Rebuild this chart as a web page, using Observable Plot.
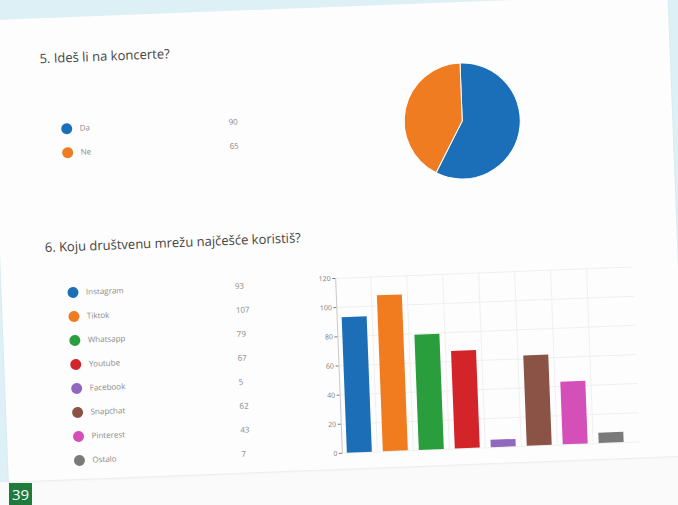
<!DOCTYPE html>
<html><head><meta charset="utf-8">
<script src="https://cdn.jsdelivr.net/npm/d3@7"></script>
<script src="https://cdn.jsdelivr.net/npm/@observablehq/plot@0.6"></script>
<style>
html,body{margin:0;padding:0;}
body{width:678px;height:505px;overflow:hidden;position:relative;background:#ddf0f5;font-family:"Open Sans",sans-serif;}
#under1{position:absolute;left:9px;top:440px;right:0;bottom:0;background:#fafafa;}
#under2{position:absolute;left:0;top:482px;width:12px;bottom:0;background:#fafafa;}
#page{position:absolute;left:-9px;top:20px;width:677px;height:462px;background:#fdfdfd;transform-origin:0 0;transform:rotate(-2.2deg);box-shadow:0 1px 2px rgba(0,0,0,0.07);}
.abs{position:absolute;}
.title{font-size:13px;color:#444;white-space:nowrap;line-height:16px;}
#pagenum{position:absolute;left:9px;top:483px;width:23px;height:22px;background:#1e7b3c;color:#fff;font-size:15px;line-height:23px;text-align:center;}
</style></head><body>
<div id="under1"></div><div id="under2"></div>
<div id="page">
  <div class="abs title" style="left:47px;top:32px">5. Ideš li na koncerte?</div>
  <div class="abs" id="pieLegend" style="left:64px;top:99px"></div>
  <div class="abs" id="pie" style="left:402px;top:54px"></div>
  <div class="abs title" style="left:45px;top:221px">6. Koju društvenu mrežu najčešće koristiš?</div>
  <div class="abs" id="barLegend" style="left:64px;top:263px"></div>
  <div class="abs" id="bars" style="left:280px;top:255px"></div>
</div>
<div id="pagenum">39</div>
<script>
const pieNames = ["Da", "Ne"];
const pieValues = [90, 65];
const pieColors = ["#1a6fb8", "#f07c22"];

const barNames = ["Instagram", "Tiktok", "Whatsapp", "Youtube", "Facebook", "Snapchat", "Pinterest", "Ostalo"];
const barValues = [93, 107, 79, 67, 5, 62, 43, 7];
const barColors = ["#1c6fb6", "#f07c1f", "#2a9d3c", "#d3242a", "#9068be", "#8a5346", "#d44fb8", "#7a7a7a"];
const yTicks = [0, 20, 40, 60, 80, 100, 120];

function legendPlot(names, values, colors, rowH) {
  const data = names.map((n, i) => ({name: n, value: values[i]}));
  return Plot.plot({
    width: 200, height: rowH * names.length, margin: 0,
    x: {axis: null, domain: [0, 1]},
    y: {type: "band", domain: names, axis: null, padding: 0},
    color: {domain: names, range: colors},
    style: {fontFamily: "Open Sans", fontSize: "8px", background: "transparent"},
    marks: [
      Plot.dot(data, {y: "name", fill: "name", r: 5.5, frameAnchor: "left", dx: 7}),
      Plot.text(data, {y: "name", text: "name", frameAnchor: "left", dx: 20, textAnchor: "start", fill: "#8a8a8a"}),
      Plot.text(data, {y: "name", text: d => String(d.value), frameAnchor: "left", dx: 169, textAnchor: "start", fill: "#8a8a8a"})
    ]
  });
}

document.getElementById("pieLegend").append(legendPlot(pieNames, pieValues, pieColors, 24));
document.getElementById("barLegend").append(legendPlot(barNames, barValues, barColors, 24.1));

// Pie
const pieData = pieNames.map((n, i) => ({name: n, value: pieValues[i], color: pieColors[i]}));
const arcs = d3.pie().sort(null).value(d => d.value)(pieData);
document.getElementById("pie").append(Plot.plot({
  width: 130, height: 130, margin: 0,
  x: {domain: [-1.12, 1.12], axis: null},
  y: {domain: [-1.12, 1.12], axis: null},
  style: {background: "transparent"},
  marks: [
    (index, scales) => {
      const cx = scales.x(0), cy = scales.y(0), r = scales.x(1) - scales.x(0);
      const arc = d3.arc().innerRadius(0).outerRadius(r);
      const g = d3.create("svg:g").attr("transform", `translate(${cx},${cy})`);
      g.selectAll("path").data(arcs).join("path")
        .attr("d", arc).attr("fill", d => d.data.color)
        .attr("stroke", "#fff").attr("stroke-width", 1);
      return g.node();
    }
  ]
}));

// Bars
const barData = barNames.map((n, i) => ({name: n, value: barValues[i]}));
const xRange = [54, 341], pIn = 0.3, pOut = 0.04;
const step = (xRange[1] - xRange[0]) / (barNames.length - pIn + 2 * pOut);
document.getElementById("bars").append(Plot.plot({
  width: 360, height: 206,
  marginLeft: 54, marginTop: 16, marginBottom: 15, marginRight: 8,
  x: {type: "band", domain: barNames, range: xRange, paddingInner: pIn, paddingOuter: pOut, axis: null},
  y: {domain: [0, 120], ticks: yTicks, grid: true, tickSize: 3, tickPadding: 2, label: null},
  color: {domain: barNames, range: barColors},
  style: {fontFamily: "Open Sans", fontSize: "7px", color: "#777", background: "transparent"},
  marks: [
    Plot.ruleX(barNames.slice(1), {x: d => d, dx: -step / 2, stroke: "#f0f0f0"}),
    Plot.barY(barData, {x: "name", y: "value", fill: "name"}),
    Plot.frame({anchor: "left", stroke: "#c8c8c8"})
  ]
}));
</script>
</body></html>
